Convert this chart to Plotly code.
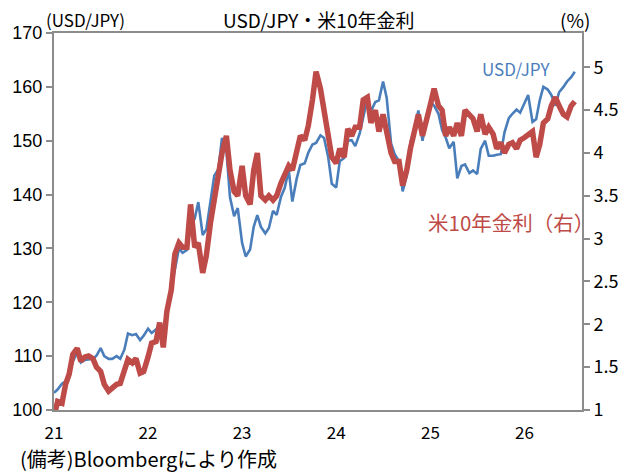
import pandas as pd
import plotly.graph_objects as go

# Semi-monthly observation dates (1st and 15th of each month), Jan 2021 - Jul 2026
dates = pd.date_range("2021-01-01", "2026-07-15", freq="SMS")

usdjpy = [
    # 2021
    103.2, 103.8, 104.9, 105.3, 106.7, 109.0, 110.6, 108.8, 109.3, 109.4, 109.5, 110.1,
    111.5, 110.0, 109.5, 109.5, 110.0, 109.5, 111.2, 114.2, 113.9, 114.1, 113.0, 113.8,
    # 2022
    115.1, 114.3, 115.0, 115.5, 115.0, 118.6, 122.5, 126.4, 130.0, 129.2, 129.7, 134.5,
    135.5, 138.6, 132.5, 133.5, 139.5, 143.5, 144.7, 150.5, 148.2, 139.5, 136.0, 137.5,
    # 2023
    131.0, 128.5, 129.8, 134.0, 136.2, 134.0, 132.8, 133.8, 137.0, 136.2, 139.6, 141.2,
    144.5, 138.7, 143.0, 145.5, 145.8, 147.8, 149.3, 149.6, 151.0, 150.5, 147.0, 142.0,
    # 2024
    141.3, 146.2, 146.8, 150.0, 150.1, 149.0, 151.3, 154.4, 157.8, 155.5, 157.2, 157.5,
    161.0, 158.0, 149.5, 147.5, 146.2, 140.6, 143.6, 149.6, 152.5, 155.6, 150.0, 153.6,
    # 2025
    157.2, 156.5, 155.0, 152.0, 150.6, 148.6, 149.8, 143.0, 145.3, 145.6, 144.0, 144.5,
    143.8, 148.5, 150.0, 147.2, 147.2, 147.4, 147.5, 151.5, 154.2, 155.0, 155.8, 155.2,
    # 2026
    157.0, 158.5, 153.5, 154.0, 157.5, 160.0, 159.5, 158.5, 156.5, 159.0, 160.0, 161.0,
    161.8, 162.8,
]

ust10y = [
    # 2021
    0.92, 1.10, 1.08, 1.30, 1.42, 1.65, 1.72, 1.57, 1.62, 1.63, 1.60, 1.50,
    1.45, 1.30, 1.22, 1.26, 1.30, 1.31, 1.48, 1.59, 1.55, 1.60, 1.43, 1.45,
    # 2022
    1.62, 1.78, 1.80, 2.02, 1.73, 2.15, 2.40, 2.82, 2.95, 2.90, 2.90, 3.40,
    2.90, 2.95, 2.60, 2.80, 3.20, 3.45, 3.80, 4.00, 4.20, 3.80, 3.55, 3.50,
    # 2023
    3.85, 3.50, 3.40, 3.80, 4.00, 3.50, 3.45, 3.50, 3.45, 3.50, 3.65, 3.75,
    3.85, 3.80, 4.05, 4.20, 4.15, 4.32, 4.62, 4.95, 4.75, 4.50, 4.25, 3.95,
    # 2024
    3.88, 4.05, 3.95, 4.28, 4.20, 4.30, 4.30, 4.62, 4.65, 4.35, 4.50, 4.25,
    4.45, 4.22, 4.00, 3.90, 3.90, 3.62, 3.80, 4.05, 4.30, 4.45, 4.20, 4.40,
    # 2025
    4.57, 4.75, 4.55, 4.50, 4.20, 4.30, 4.20, 4.35, 4.20, 4.50, 4.45, 4.40,
    4.25, 4.45, 4.22, 4.30, 4.22, 4.05, 4.12, 4.00, 4.10, 4.12, 4.05, 4.15,
    # 2026
    4.18, 4.22, 4.25, 3.95, 4.10, 4.35, 4.40, 4.55, 4.65, 4.55, 4.45, 4.42,
    4.55, 4.60,
]

year_ticks = ["2021-01-01", "2022-01-01", "2023-01-01", "2024-01-01", "2025-01-01", "2026-01-01"]
year_labels = ["21", "22", "23", "24", "25", "26"]
left_ticks = [100, 110, 120, 130, 140, 150, 160, 170]
right_ticks = [1, 1.5, 2, 2.5, 3, 3.5, 4, 4.5, 5]
right_labels = ["1", "1.5", "2", "2.5", "3", "3.5", "4", "4.5", "5"]

BLUE = "#4A7EBB"
RED = "#BE4B48"
AXIS = "#8C8C8C"
JP = "Noto Sans CJK JP"

fig = go.Figure()
fig.add_trace(go.Scatter(x=dates, y=usdjpy, mode="lines", name="USD/JPY",
                         line=dict(color=BLUE, width=2.6), yaxis="y"))
fig.add_trace(go.Scatter(x=dates, y=ust10y, mode="lines", name="米10年金利（右）",
                         line=dict(color=RED, width=5.5), yaxis="y2"))

fig.update_layout(
    width=632, height=474,
    margin=dict(l=49, r=50, t=33, b=64),
    paper_bgcolor="white", plot_bgcolor="white",
    showlegend=False,
    font=dict(family=JP, color="black", size=17),
    xaxis=dict(type="date", range=["2021-01-01", "2026-08-12"],
               tickvals=year_ticks, ticktext=year_labels, ticks="",
               ticklabelstandoff=7,
               showline=True, linecolor=AXIS, linewidth=2, mirror=True,
               showgrid=False, zeroline=False,
               tickfont=dict(family=JP, size=17)),
    yaxis=dict(range=[100, 170], tickvals=left_ticks, ticks="outside", ticklen=6,
               tickcolor=AXIS, tickwidth=1.5,
               showline=True, linecolor=AXIS, linewidth=2,
               showgrid=False, zeroline=False,
               tickfont=dict(family="Liberation Sans", size=18)),
    yaxis2=dict(range=[1, 5.4], tickvals=right_ticks, ticktext=right_labels,
                overlaying="y", side="right", ticks="outside", ticklen=6,
                tickcolor=AXIS, tickwidth=1.5,
                showline=True, linecolor=AXIS, linewidth=2,
                showgrid=False, zeroline=False,
                tickfont=dict(family=JP, size=18)),
)

fig.add_annotation(text="USD/JPY・米10年金利", xref="paper", yref="paper",
                   x=0.5, y=1, yshift=14, showarrow=False, yanchor="middle",
                   font=dict(family=JP, size=19))
fig.add_annotation(text="(USD/JPY)", xref="paper", yref="paper",
                   x=0, xshift=-10, y=1, yshift=14, xanchor="left", yanchor="middle",
                   showarrow=False, font=dict(family=JP, size=17))
fig.add_annotation(text="(%)", xref="paper", yref="paper",
                   x=1, xshift=-24, y=1, yshift=14, xanchor="left", yanchor="middle",
                   showarrow=False, font=dict(family=JP, size=19))
fig.add_annotation(text="USD/JPY", xref="paper", yref="paper",
                   x=0.875, y=0.905, xanchor="center", yanchor="middle",
                   showarrow=False, font=dict(family=JP, size=17, color=BLUE))
fig.add_annotation(text="米10年金利（右）", xref="paper", yref="paper",
                   x=0.865, y=0.5, xanchor="center", yanchor="middle",
                   showarrow=False, font=dict(family=JP, size=20.5, color=RED))
fig.add_annotation(text="(備考)Bloombergにより作成", xref="paper", yref="paper",
                   x=0, xshift=-36, y=0, yshift=-48, xanchor="left", yanchor="middle",
                   showarrow=False, font=dict(family=JP, size=20))

fig.write_html("out.html")
